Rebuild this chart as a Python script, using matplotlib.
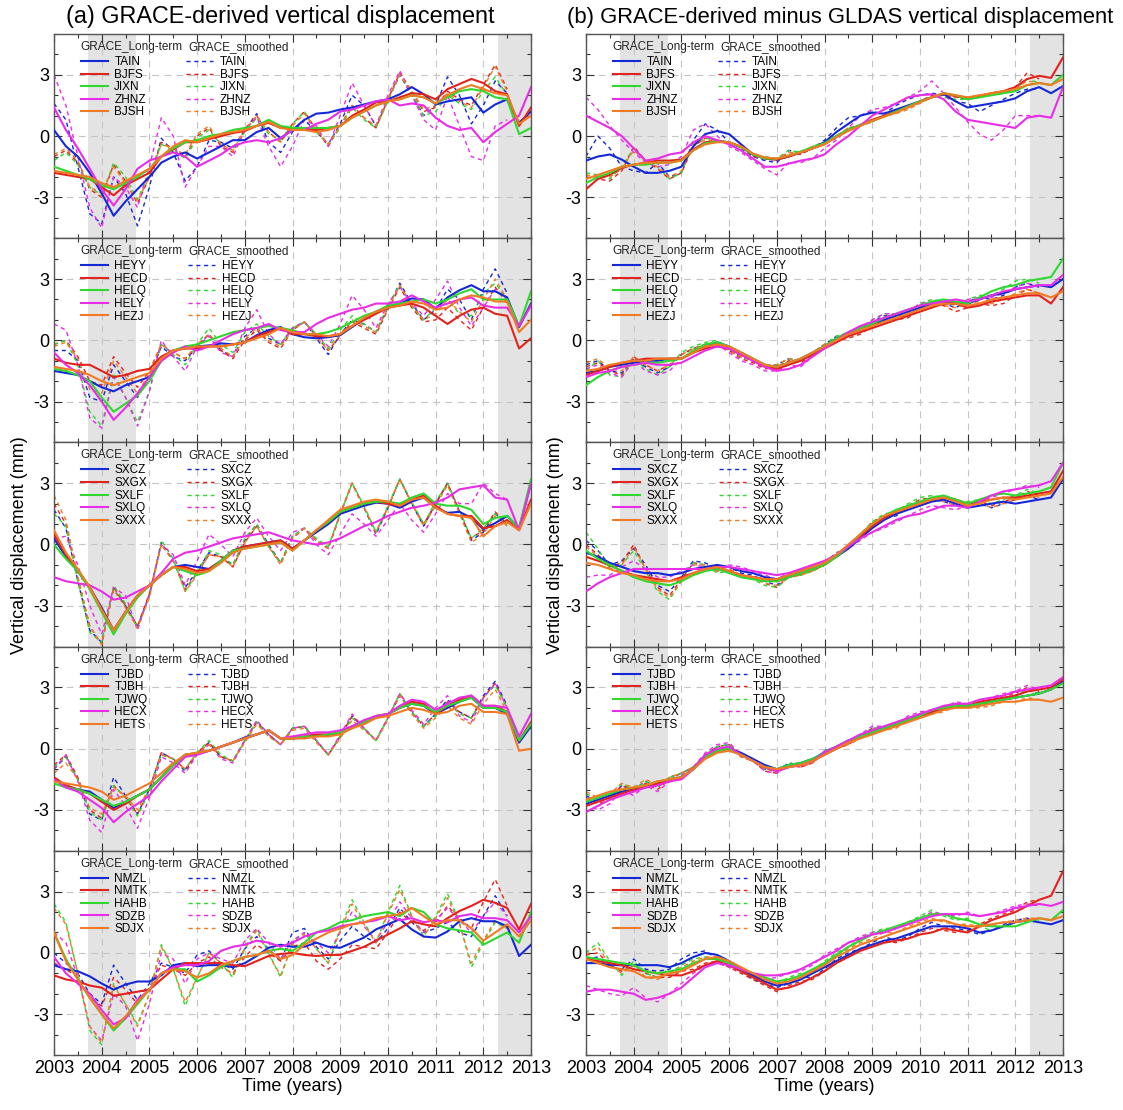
import numpy as np
import matplotlib
matplotlib.use("Agg")
import matplotlib.pyplot as plt
from matplotlib.ticker import MultipleLocator, FixedLocator, FuncFormatter
from matplotlib.lines import Line2D

plt.rcParams['font.family'] = ['Liberation Sans', 'DejaVu Sans']
plt.rcParams['axes.unicode_minus'] = False

nan = float('nan')

# ---------------- time axis (quarterly samples) ----------------
T_START = 2003.0
T_STEP = 0.25
N_PTS = 41
time = T_START + T_STEP * np.arange(N_PTS)

# shaded periods
shade_periods = [(2003.72, 2004.72), (2012.3, 2013.0)]

# ---------------- station lists ----------------
stations_a = [["TAIN", "BJFS", "JIXN", "ZHNZ", "BJSH"],
              ["HEYY", "HECD", "HELQ", "HELY", "HEZJ"],
              ["SXCZ", "SXGX", "SXLF", "SXLQ", "SXXX"],
              ["TJBD", "TJBH", "TJWQ", "HECX", "HETS"],
              ["NMZL", "NMTK", "HAHB", "SDZB", "SDJX"]]

# ================= (a) GRACE-derived =================
a1_long = {
    "TAIN": [0.3, -0.5, -1.0, -1.8, -2.8, -3.9, -3.2, -2.6, -2.0, -1.3, -1.0, -0.8, -1.1, -0.8, -0.5, -0.2, -0.2, 0.2, 0.4, -0.1, 0.3, 0.8, 1.1, 1.15, 1.3, 1.4, 1.55, 1.7, 1.8, 2.05, 2.4, 2.05, 1.55, 1.7, 1.8, 1.9, 1.15, 1.55, 1.8, 0.65, 1.2],
    "BJFS": [-1.8, -1.9, -2.0, -2.1, -2.5, -2.9, -2.4, -2.1, -1.8, -1.0, -0.65, -0.3, -0.3, -0.15, 0.0, 0.15, 0.25, 0.5, 0.65, 0.4, 0.4, 0.3, 0.3, 0.4, 0.5, 1.0, 1.3, 1.65, 1.7, 1.9, 2.1, 2.05, 1.8, 2.3, 2.55, 2.8, 2.6, 2.2, 2.05, 0.5, 1.4],
    "JIXN": [-1.5, -1.7, -1.9, -2.1, -2.4, -2.6, -2.3, -2.0, -1.6, -1.0, -0.6, -0.3, -0.2, 0.0, 0.1, 0.3, 0.4, 0.5, 0.8, 0.5, 0.4, 0.4, 0.4, 0.4, 0.5, 0.9, 1.2, 1.5, 1.7, 1.8, 2.0, 1.9, 1.6, 1.9, 2.2, 2.3, 2.2, 1.9, 1.8, 0.1, 0.4],
    "ZHNZ": [1.4, 0.3, -0.6, -1.6, -2.6, -3.4, -2.6, -1.6, -1.2, -1.0, -0.8, -1.0, -1.5, -1.2, -0.9, -0.5, -0.3, -0.2, -0.3, -0.1, 0.3, 0.3, 0.6, 0.8, 1.2, 1.3, 1.5, 1.7, 1.8, 1.5, 1.6, 1.5, 0.9, 0.5, 0.3, 0.4, -0.3, 0.2, 0.6, 1.0, 2.4],
    "BJSH": [-1.7, -1.8, -1.9, -2.0, -2.3, -2.5, -2.2, -1.9, -1.6, -1.0, -0.5, -0.2, -0.3, -0.1, 0.1, 0.2, 0.3, 0.5, 0.7, 0.4, 0.3, 0.3, 0.2, 0.3, 0.5, 0.9, 1.2, 1.5, 1.7, 1.8, 2.0, 1.9, 1.6, 2.0, 2.3, 2.5, 2.3, 2.1, 2.0, 0.6, 1.0],
}
a1_smooth = {
    "TAIN": [1.6, 0.8, -1.5, -3.8, -4.3, -2.0, -2.8, -4.4, -2.5, -0.1, -0.8, -2.2, -1.5, -0.2, -0.3, -0.6, 0.3, 1.1, -0.3, -0.8, 0.2, 0.8, 0.2, -0.4, 0.6, 2.0, 1.5, 0.5, 1.8, 3.0, 2.0, 1.0, 1.5, 2.9, 2.0, 0.6, 1.5, 2.7, 2.1, nan, nan],
    "BJFS": [-1.0, -0.7, -1.3, -2.6, -3.0, -1.4, -2.2, -3.3, -2.0, -0.3, -0.6, -1.0, 0.0, 0.4, -0.5, -0.8, 0.3, 1.0, 0.2, -0.3, 0.6, 1.2, 0.3, -0.5, 0.5, 1.5, 0.9, 0.4, 1.8, 3.1, 2.2, 1.2, 1.4, 2.2, 1.8, 1.5, 2.5, 3.5, 2.3, nan, nan],
    "JIXN": [-1.2, -0.8, -1.4, -2.5, -2.9, -1.3, -2.0, -3.1, -1.8, -0.4, -0.7, -1.1, -0.1, 0.3, -0.4, -0.7, 0.2, 0.9, 0.1, -0.2, 0.6, 1.2, 0.2, -0.4, 0.4, 1.4, 0.8, 0.4, 1.7, 3.0, 2.1, 1.0, 1.2, 2.0, 1.6, 1.3, 2.2, 2.9, 2.0, nan, nan],
    "ZHNZ": [3.0, 1.5, -1.0, -3.5, -4.5, -2.0, -2.5, -3.5, -1.5, 0.9, 0.0, -2.5, -1.5, -0.5, -0.5, -1.0, 0.3, 0.9, -0.5, -1.5, -0.5, 0.8, 0.5, -0.5, 1.0, 2.6, 1.5, 0.5, 2.0, 3.2, 2.0, 0.8, 0.3, 2.0, 0.5, -1.0, -1.2, 0.5, 0.8, nan, nan],
    "BJSH": [-0.9, -0.6, -1.2, -2.5, -2.8, -1.5, -2.3, -3.2, -2.0, -0.4, -0.6, -0.9, 0.1, 0.5, -0.4, -0.7, 0.3, 1.0, 0.2, -0.3, 0.5, 1.1, 0.3, -0.4, 0.5, 1.5, 0.9, 0.5, 1.8, 3.0, 2.2, 1.3, 1.5, 2.1, 1.7, 1.4, 2.4, 3.4, 2.2, nan, nan],
}

a2_long = {
    "HEYY": [-1.5, -1.6, -1.7, -2.0, -2.3, -2.5, -2.2, -2.0, -1.8, -1.0, -0.5, -0.4, -0.3, -0.25, -0.15, -0.2, -0.1, 0.25, 0.5, 0.65, 0.3, 0.15, 0.1, 0.15, 0.25, 0.65, 1.05, 1.4, 1.65, 1.8, 2.05, 2.0, 1.55, 2.1, 2.45, 2.7, 2.4, 2.4, 2.1, 0.65, 1.8],
    "HECD": [-0.9, -1.1, -1.2, -1.2, -1.5, -1.8, -1.7, -1.5, -1.4, -0.8, -0.5, -0.4, -0.4, -0.3, -0.3, -0.2, -0.1, 0.2, 0.4, 0.6, 0.3, 0.3, 0.2, 0.2, 0.3, 0.7, 1.0, 1.3, 1.6, 1.7, 1.8, 1.6, 1.2, 0.8, 1.2, 1.5, 1.6, 1.3, 1.2, -0.4, 0.1],
    "HELQ": [-1.4, -1.5, -1.7, -2.0, -2.8, -3.5, -3.1, -2.7, -2.0, -1.0, -0.5, -0.3, -0.2, 0.0, 0.2, 0.4, 0.5, 0.6, 0.7, 0.6, 0.5, 0.3, 0.3, 0.4, 0.6, 0.9, 1.2, 1.4, 1.7, 1.8, 1.9, 2.0, 1.8, 2.0, 2.3, 2.5, 2.0, 2.0, 2.0, 0.7, 2.4],
    "HELY": [-0.6, -1.2, -1.6, -2.2, -3.0, -3.9, -3.3, -2.6, -1.8, -1.0, -0.6, -0.3, -0.5, -0.3, 0.0, 0.3, 0.5, 0.6, 0.8, 0.5, 0.4, 0.4, 0.8, 1.1, 1.3, 1.5, 1.6, 1.8, 1.8, 1.9, 2.2, 1.9, 1.6, 1.8, 2.0, 2.1, 1.7, 1.6, 1.6, 0.7, 1.7],
    "HEZJ": [-1.3, -1.4, -1.5, -1.7, -2.0, -2.2, -2.0, -1.8, -1.6, -0.9, -0.5, -0.4, -0.3, -0.3, -0.3, -0.2, -0.1, 0.1, 0.3, 0.6, 0.4, 0.3, 0.3, 0.2, 0.3, 0.7, 1.1, 1.4, 1.6, 1.7, 1.9, 1.8, 1.5, 1.6, 2.0, 2.2, 2.1, 1.9, 1.9, 0.4, 1.0],
}
a2_smooth = {
    "HEYY": [-0.5, -0.5, -1.0, -2.8, -3.0, -1.2, -2.0, -2.8, -1.8, -0.3, -0.8, -1.0, -0.3, 0.3, -0.5, -0.8, 0.2, 0.6, 0.1, -0.2, 0.6, 0.9, 0.1, -0.7, 0.3, 1.0, 0.8, 0.4, 1.6, 2.8, 1.8, 1.0, 1.5, 2.5, 2.0, 1.0, 2.5, 3.5, 2.3, nan, nan],
    "HECD": [-0.2, 0.0, -0.8, -2.0, -2.2, -0.8, -1.6, -2.3, -1.5, -0.2, -0.6, -0.9, -0.3, 0.3, -0.5, -0.9, 0.0, 0.5, -0.1, -0.4, 0.5, 0.9, 0.2, -0.5, 0.2, 0.9, 0.6, 0.3, 1.5, 2.6, 1.6, 0.9, 1.0, 1.6, 1.0, 0.5, 1.6, 2.6, 1.8, nan, nan],
    "HELQ": [-0.2, 0.0, -1.2, -3.5, -4.2, -1.6, -2.8, -4.0, -2.5, -0.2, -0.7, -1.2, -0.2, 0.6, -0.2, -0.6, 0.4, 0.8, 0.2, -0.2, 0.6, 0.9, 0.3, -0.4, 0.5, 1.2, 0.8, 0.4, 1.7, 2.7, 1.7, 1.0, 1.6, 2.0, 1.3, 1.2, 2.3, 2.8, 2.0, nan, nan],
    "HELY": [0.8, 0.5, -1.2, -3.8, -4.3, -1.8, -2.8, -4.2, -2.5, 0.0, -0.8, -1.5, -0.3, 0.2, -0.6, -0.8, 0.6, 1.5, 0.3, -0.2, 0.6, 0.9, 0.3, -0.3, 0.8, 2.2, 1.5, 0.6, 1.8, 2.6, 1.8, 1.2, 2.0, 2.9, 1.6, 0.7, 1.6, 2.5, 2.0, nan, nan],
    "HEZJ": [-0.3, -0.1, -0.9, -2.4, -2.6, -1.0, -1.8, -2.6, -1.6, -0.2, -0.6, -0.9, -0.2, 0.3, -0.4, -0.8, 0.1, 0.6, 0.0, -0.3, 0.5, 0.9, 0.2, -0.5, 0.3, 1.0, 0.7, 0.4, 1.6, 2.7, 1.7, 1.0, 1.3, 2.0, 1.4, 0.9, 2.0, 3.0, 2.0, nan, nan],
}

a3_long = {
    "SXCZ": [0.3, -0.6, -1.3, -2.1, -3.1, -4.2, -3.3, -2.5, -2.0, -1.5, -1.1, -1.0, -1.1, -1.2, -0.8, -0.3, -0.1, 0.0, 0.1, 0.2, -0.2, 0.2, 0.6, 1.0, 1.5, 1.7, 1.9, 2.05, 2.0, 1.8, 2.1, 2.3, 1.8, 1.55, 1.6, 1.3, 0.75, 1.05, 1.4, 0.8, 3.0],
    "SXGX": [0.5, -0.5, -1.3, -2.1, -3.2, -4.2, -3.3, -2.5, -2.0, -1.5, -1.1, -1.1, -1.3, -1.2, -0.8, -0.3, -0.1, 0.0, 0.1, 0.2, -0.2, 0.2, 0.7, 1.1, 1.6, 1.8, 2.0, 2.1, 2.0, 1.9, 2.2, 2.4, 1.9, 1.5, 1.4, 1.4, 0.8, 0.9, 1.2, 0.7, 2.2],
    "SXLF": [0.0, -0.7, -1.3, -2.2, -3.3, -4.4, -3.4, -2.6, -2.0, -1.5, -1.1, -1.3, -1.5, -1.3, -0.8, -0.3, -0.2, -0.1, 0.0, 0.1, -0.3, 0.2, 0.7, 1.1, 1.6, 1.8, 2.0, 2.1, 2.1, 2.0, 2.3, 2.5, 2.0, 1.9, 1.9, 1.7, 1.0, 1.3, 1.4, 0.8, 3.2],
    "SXLQ": [-1.6, -1.8, -1.9, -2.0, -2.3, -2.7, -2.6, -2.3, -2.0, -1.4, -0.7, -0.4, -0.3, -0.1, 0.1, 0.3, 0.4, 0.5, 0.6, 0.4, 0.2, 0.1, 0.0, 0.1, 0.3, 0.6, 0.9, 1.1, 1.4, 1.6, 1.8, 1.9, 2.05, 2.3, 2.7, 2.8, 2.9, 2.3, 2.2, 0.7, 3.0],
    "SXXX": [0.7, -0.4, -1.2, -2.1, -3.2, -4.2, -3.3, -2.5, -2.0, -1.5, -1.1, -1.2, -1.4, -1.3, -0.9, -0.4, -0.2, -0.1, 0.0, 0.1, -0.3, 0.2, 0.7, 1.2, 1.7, 1.9, 2.1, 2.2, 2.1, 1.9, 2.2, 2.3, 1.8, 1.5, 1.4, 1.3, 0.4, 0.9, 1.1, 0.7, 2.0],
}
a3_smooth = {
    "SXCZ": [1.7, 0.8, -1.8, -4.2, -4.8, -2.2, -3.0, -4.0, -2.5, 0.1, -0.8, -2.1, -1.3, -0.4, -0.6, -1.0, 0.2, 1.0, 0.0, -0.9, 0.4, 0.8, 0.2, -0.2, 1.5, 3.0, 1.8, 0.5, 1.8, 3.2, 2.0, 0.9, 2.0, 3.0, 1.6, 0.2, 0.6, 1.5, 1.0, nan, nan],
    "SXGX": [2.0, 1.0, -1.6, -4.0, -4.9, -2.1, -3.0, -4.0, -2.4, 0.0, -0.8, -2.2, -1.4, -0.5, -0.6, -1.1, 0.1, 0.9, -0.1, -0.9, 0.3, 0.8, 0.2, -0.2, 1.5, 3.0, 1.8, 0.6, 1.8, 3.2, 2.0, 1.0, 2.0, 3.0, 1.6, 0.3, 0.7, 1.6, 1.0, nan, nan],
    "SXLF": [1.5, 0.9, -1.8, -4.3, -4.8, -2.0, -2.9, -4.1, -2.5, 0.2, -0.7, -2.3, -1.4, -0.3, -0.5, -1.0, 0.3, 1.0, -0.1, -0.9, 0.4, 0.8, 0.3, -0.1, 1.5, 3.0, 1.9, 0.6, 1.9, 3.2, 2.1, 1.0, 2.1, 3.0, 1.7, 0.3, 0.8, 1.5, 1.0, nan, nan],
    "SXLQ": [0.3, 0.4, -1.0, -3.0, -4.4, -2.1, -2.5, -4.2, -2.4, 0.0, -0.5, -2.0, -0.8, 0.5, 0.0, -0.6, 0.6, 1.3, 0.4, -0.3, 0.6, 0.8, 0.0, -0.5, 0.5, 1.5, 1.0, 0.4, 1.2, 2.0, 1.2, 0.6, 1.5, 2.5, 2.0, 2.0, 3.0, 2.5, 2.2, nan, nan],
    "SXXX": [2.4, 1.2, -1.6, -4.0, -4.9, -2.2, -3.1, -4.1, -2.6, 0.0, -0.8, -2.3, -1.5, -0.5, -0.6, -1.1, 0.1, 0.9, -0.1, -1.0, 0.3, 0.8, 0.2, -0.2, 1.5, 3.0, 1.8, 0.6, 1.8, 3.2, 2.0, 0.9, 1.9, 2.9, 1.5, 0.1, 0.5, 1.4, 0.9, nan, nan],
}

a4_long = {
    "TJBD": [-1.5, -1.8, -2.0, -2.1, -2.5, -2.9, -2.6, -2.3, -2.0, -1.4, -0.8, -0.3, -0.25, -0.1, 0.1, 0.3, 0.55, 0.7, 0.9, 0.5, 0.5, 0.55, 0.65, 0.65, 0.8, 1.05, 1.3, 1.55, 1.7, 2.0, 2.2, 2.1, 1.7, 2.0, 2.3, 2.5, 2.0, 2.0, 1.7, 0.3, 1.1],
    "TJBH": [-1.4, -1.8, -2.0, -2.2, -2.6, -3.0, -2.7, -2.3, -2.0, -1.4, -0.8, -0.3, -0.2, -0.1, 0.1, 0.3, 0.5, 0.7, 0.9, 0.5, 0.5, 0.6, 0.7, 0.7, 0.8, 1.1, 1.3, 1.6, 1.7, 2.0, 2.3, 2.2, 1.7, 2.1, 2.4, 2.6, 2.1, 2.1, 1.8, 0.4, 1.3],
    "TJWQ": [-1.7, -1.9, -2.0, -2.2, -2.5, -2.8, -2.6, -2.3, -2.0, -1.4, -0.8, -0.3, -0.2, -0.1, 0.1, 0.3, 0.5, 0.7, 0.9, 0.5, 0.5, 0.6, 0.6, 0.7, 0.8, 1.0, 1.3, 1.6, 1.7, 2.0, 2.2, 2.1, 1.8, 2.1, 2.3, 2.5, 2.0, 2.0, 1.8, 0.4, 1.2],
    "HECX": [-1.5, -1.9, -2.1, -2.5, -2.9, -3.6, -3.1, -2.7, -2.3, -1.6, -1.0, -0.4, -0.3, -0.1, 0.1, 0.3, 0.5, 0.7, 0.9, 0.5, 0.6, 0.7, 0.8, 0.8, 0.9, 1.1, 1.4, 1.6, 1.7, 2.1, 2.4, 2.3, 1.9, 2.2, 2.5, 2.6, 2.1, 2.1, 2.0, 0.6, 1.7],
    "HETS": [-1.6, -1.7, -1.8, -1.9, -2.1, -2.5, -2.3, -2.0, -1.7, -1.2, -0.7, -0.3, -0.2, -0.1, 0.1, 0.3, 0.5, 0.7, 0.9, 0.5, 0.5, 0.5, 0.6, 0.6, 0.7, 1.0, 1.2, 1.5, 1.6, 1.8, 2.0, 1.9, 1.7, 1.8, 2.1, 2.2, 1.8, 1.8, 1.7, -0.1, 0.0],
}
a4_smooth = {
    "TJBD": [-1.0, -0.4, -1.5, -3.2, -3.5, -1.4, -2.3, -3.2, -2.0, -0.2, -0.5, -1.1, -0.2, 0.3, -0.4, -0.6, 0.4, 1.3, 0.7, 0.2, 1.0, 1.1, 0.4, -0.3, 0.6, 1.6, 1.0, 0.4, 1.5, 2.6, 1.8, 1.1, 1.7, 2.4, 1.8, 1.5, 2.6, 3.3, 2.1, nan, nan],
    "TJBH": [-0.8, -0.3, -1.4, -3.0, -3.4, -1.8, -2.4, -3.2, -2.0, -0.2, -0.5, -1.0, -0.2, 0.3, -0.4, -0.6, 0.4, 1.3, 0.7, 0.2, 1.0, 1.1, 0.4, -0.3, 0.6, 1.6, 1.0, 0.4, 1.5, 2.7, 1.8, 1.1, 1.7, 2.3, 1.8, 1.5, 2.5, 3.2, 2.0, nan, nan],
    "TJWQ": [-0.9, -0.4, -1.5, -3.1, -3.5, -1.8, -2.4, -3.3, -2.1, -0.3, -0.5, -1.0, -0.2, 0.4, -0.3, -0.6, 0.4, 1.3, 0.6, 0.2, 1.0, 1.1, 0.4, -0.3, 0.6, 1.5, 1.0, 0.4, 1.5, 2.7, 1.8, 1.1, 1.6, 2.3, 1.7, 1.5, 2.5, 3.1, 2.0, nan, nan],
    "HECX": [-1.0, -0.3, -1.6, -3.5, -4.1, -2.0, -2.8, -3.9, -2.4, -0.4, -0.7, -1.2, -0.3, 0.2, -0.5, -0.7, 0.4, 1.4, 0.7, 0.2, 1.0, 1.1, 0.4, -0.3, 0.7, 1.7, 1.0, 0.4, 1.5, 2.7, 1.9, 1.2, 2.0, 2.6, 1.6, 1.3, 2.5, 3.2, 2.0, nan, nan],
    "HETS": [-1.2, -0.7, -1.5, -2.9, -3.2, -1.9, -2.3, -3.0, -1.9, -0.3, -0.5, -1.0, -0.2, 0.2, -0.4, -0.6, 0.3, 1.2, 0.6, 0.2, 0.9, 1.0, 0.3, -0.3, 0.5, 1.4, 0.9, 0.4, 1.4, 2.6, 1.7, 1.0, 1.5, 2.1, 1.5, 1.2, 2.2, 2.9, 1.8, nan, nan],
}

a5_long = {
    "NMZL": [-0.6, -0.8, -0.9, -1.15, -1.5, -1.8, -1.55, -1.4, -1.4, -1.1, -0.6, -0.5, -0.65, -0.6, -0.6, -0.7, -0.5, -0.15, 0.25, 0.4, 0.3, 0.3, 0.5, 0.3, 0.25, 0.5, 0.75, 1.15, 1.4, 1.65, 1.15, 0.8, 0.75, 1.05, 1.55, 1.7, 1.55, 1.55, 1.3, -0.15, 0.4],
    "NMTK": [-1.1, -1.3, -1.4, -1.6, -1.7, -2.1, -2.0, -1.9, -1.8, -1.3, -0.8, -0.5, -0.5, -0.5, -0.5, -0.6, -0.65, -0.4, -0.15, -0.05, 0.0, -0.1, -0.15, -0.1, -0.1, 0.1, 0.3, 0.6, 0.9, 1.2, 1.55, 1.4, 1.3, 1.7, 2.05, 2.3, 2.6, 2.45, 2.2, 1.15, 2.4],
    "HAHB": [1.0, -0.3, -1.3, -2.2, -3.0, -3.8, -3.2, -2.5, -1.8, -1.0, -0.8, -0.8, -1.4, -1.1, -0.7, -0.4, -0.2, -0.1, 0.1, 0.2, 0.1, 0.5, 1.0, 1.2, 1.5, 1.6, 1.8, 1.9, 2.0, 1.8, 2.2, 2.0, 1.4, 1.2, 1.1, 1.0, 0.4, 0.7, 1.0, 0.5, 2.0],
    "SDZB": [-0.2, -1.0, -1.5, -2.0, -2.8, -3.5, -3.2, -2.3, -1.8, -1.0, -0.7, -0.6, -0.6, -0.4, 0.1, 0.3, 0.4, 0.6, 0.5, 0.3, 0.5, 0.8, 1.0, 1.1, 1.3, 1.4, 1.5, 1.6, 1.8, 1.6, 1.7, 1.5, 1.6, 1.5, 1.8, 1.9, 1.7, 1.7, 1.6, 1.0, 1.8],
    "SDJX": [1.0, -0.4, -1.3, -2.2, -3.0, -3.7, -3.1, -2.4, -1.8, -1.0, -0.8, -0.9, -1.2, -1.0, -0.6, -0.4, -0.2, -0.1, 0.1, -0.3, -0.1, 0.4, 0.7, 1.0, 1.2, 1.4, 1.5, 1.7, 1.8, 1.9, 2.2, 1.8, 1.4, 1.6, 1.6, 1.2, 0.6, 1.0, 1.4, 0.8, 1.6],
}
a5_smooth = {
    "NMZL": [0.0, -0.5, -1.0, -2.0, -2.5, -0.6, -1.5, -2.3, -1.5, -0.5, -0.7, -1.0, -0.1, 0.1, -0.5, -0.8, 0.2, 0.8, 0.2, -0.4, 1.0, 1.2, 0.3, -0.3, 0.6, 1.3, 0.8, 0.5, 1.2, 2.2, 1.5, 1.0, 1.2, 1.5, 1.0, 0.8, 1.8, 2.8, 1.8, nan, nan],
    "NMTK": [-0.5, -0.8, -1.2, -2.2, -2.6, -1.2, -1.8, -2.5, -1.7, -0.6, -0.8, -1.1, -0.5, -0.2, -0.7, -1.0, -0.2, 0.4, 0.0, -0.4, 0.3, 0.5, -0.4, -0.8, -0.3, 0.4, 0.3, 0.2, 1.0, 2.0, 1.5, 1.1, 1.5, 2.3, 1.7, 1.2, 2.5, 3.6, 2.3, nan, nan],
    "HAHB": [2.4, 1.5, -1.0, -3.8, -4.5, -1.5, -2.5, -3.5, -2.0, 0.4, -0.8, -2.6, -1.2, 0.0, -0.5, -1.2, 0.3, 1.2, 0.0, -1.2, 0.5, 1.0, 0.2, -0.5, 1.2, 2.6, 1.5, 0.5, 2.0, 3.3, 1.8, 0.8, 1.8, 2.9, 1.5, -0.7, 0.5, 1.5, 1.2, nan, nan],
    "SDZB": [1.0, 0.5, -1.2, -3.6, -4.3, -2.0, -2.6, -4.3, -2.5, 0.0, -0.3, -1.5, -0.3, 0.0, -0.3, -0.5, 0.6, 1.2, 0.5, -0.3, 0.6, 1.0, 0.5, 0.0, 1.0, 2.0, 1.3, 0.6, 1.5, 2.5, 1.7, 1.0, 1.6, 2.2, 1.6, 1.0, 1.8, 2.5, 1.8, nan, nan],
    "SDJX": [2.2, 1.4, -1.0, -3.6, -4.4, -1.6, -2.5, -3.6, -2.0, 0.3, -0.8, -2.4, -1.2, 0.0, -0.5, -1.1, 0.2, 1.1, -0.1, -1.1, 0.4, 0.9, 0.2, -0.5, 1.1, 2.4, 1.4, 0.5, 1.9, 3.1, 1.8, 0.8, 1.7, 2.7, 1.4, -0.5, 0.6, 1.6, 1.2, nan, nan],
}

# ================= (b) GRACE-derived minus GLDAS =================
b1_long = {
    "TAIN": [-1.2, -1.0, -0.9, -1.15, -1.5, -1.8, -1.8, -1.7, -1.5, -0.5, 0.1, 0.25, 0.1, -0.4, -0.9, -1.1, -1.15, -1.0, -0.8, -0.6, -0.3, 0.2, 0.6, 1.0, 1.15, 1.1, 1.3, 1.5, 1.7, 1.9, 2.05, 1.7, 1.4, 1.5, 1.6, 1.7, 1.85, 2.2, 2.4, 2.1, 2.45],
    "BJFS": [-2.6, -2.1, -1.9, -1.55, -1.4, -1.3, -1.2, -1.2, -1.15, -0.65, -0.3, -0.25, -0.3, -0.55, -0.9, -1.1, -1.15, -1.0, -0.8, -0.6, -0.4, 0.0, 0.3, 0.55, 0.8, 1.0, 1.2, 1.45, 1.7, 1.9, 2.1, 1.95, 1.85, 1.95, 2.1, 2.2, 2.4, 2.8, 2.95, 2.85, 3.85],
    "JIXN": [-2.3, -2.0, -1.8, -1.5, -1.4, -1.4, -1.3, -1.3, -1.2, -0.7, -0.35, -0.25, -0.3, -0.55, -0.9, -1.1, -1.1, -0.95, -0.75, -0.55, -0.35, 0.0, 0.3, 0.55, 0.75, 0.95, 1.2, 1.45, 1.7, 1.9, 2.1, 2.0, 1.8, 1.9, 2.0, 2.1, 2.2, 2.5, 2.6, 2.5, 3.0],
    "ZHNZ": [1.0, 0.7, 0.4, 0.0, -0.6, -1.2, -1.1, -0.9, -0.8, -0.3, 0.0, -0.2, -0.4, -0.7, -1.1, -1.5, -1.5, -1.35, -1.2, -1.1, -0.9, -0.4, 0.0, 0.5, 1.0, 1.3, 1.6, 1.9, 2.0, 2.05, 1.8, 1.2, 0.8, 0.7, 0.6, 0.5, 0.4, 0.9, 1.0, 0.9, 2.4],
    "BJSH": [-2.1, -1.9, -1.7, -1.5, -1.4, -1.3, -1.3, -1.3, -1.2, -0.7, -0.4, -0.3, -0.3, -0.5, -0.85, -1.05, -1.1, -0.95, -0.8, -0.6, -0.4, -0.05, 0.25, 0.5, 0.75, 0.95, 1.15, 1.4, 1.65, 1.9, 2.1, 2.0, 1.9, 2.0, 2.1, 2.2, 2.3, 2.5, 2.6, 2.5, 2.8],
}
b1_smooth = {
    "TAIN": [-1.0, 0.0, -0.6, -1.5, -1.7, -1.8, -1.3, -2.0, -1.8, -0.2, 0.6, 0.3, -0.3, -0.6, -1.0, -1.2, -1.3, -0.7, -0.8, -0.6, -0.2, 0.4, 0.9, 1.0, 1.2, 1.1, 1.5, 1.8, 2.0, 2.1, 2.0, 1.7, 1.6, 1.2, 1.5, 1.8, 2.1, 2.3, 2.3, nan, nan],
    "BJFS": [-2.0, -2.1, -2.2, -1.7, -0.5, -1.2, -1.6, -2.1, -1.8, -0.5, -0.1, -0.2, -0.3, -0.5, -1.0, -1.1, -1.2, -0.8, -0.9, -0.6, -0.4, -0.1, 0.4, 0.5, 0.7, 1.0, 1.2, 1.4, 1.7, 2.0, 2.0, 1.9, 1.8, 2.0, 2.1, 2.2, 2.4, 3.1, 2.8, nan, nan],
    "JIXN": [-1.8, -1.9, -2.1, -1.5, -0.6, -1.3, -1.5, -2.1, -1.8, -0.4, -0.1, -0.2, -0.3, -0.5, -0.9, -1.0, -1.1, -0.7, -0.8, -0.5, -0.3, 0.0, 0.4, 0.5, 0.7, 1.0, 1.2, 1.4, 1.7, 1.9, 1.9, 1.8, 1.8, 1.9, 2.0, 2.1, 2.3, 2.8, 2.6, nan, nan],
    "ZHNZ": [1.9, 1.3, 0.5, -0.2, -0.8, -1.3, -1.5, -1.4, -1.0, 0.3, 0.6, 0.0, -0.5, -0.8, -1.2, -1.6, -1.9, -1.3, -1.3, -1.1, -0.6, -0.2, 0.4, 1.0, 1.3, 1.4, 1.6, 1.9, 2.2, 2.7, 2.1, 1.4, 0.7, 0.1, -0.2, 0.3, 1.0, 1.0, 1.0, nan, nan],
    "BJSH": [-1.9, -2.0, -2.0, -1.6, -0.7, -1.2, -1.5, -2.0, -1.7, -0.4, -0.2, -0.2, -0.3, -0.5, -0.9, -1.1, -1.1, -0.8, -0.8, -0.5, -0.3, 0.0, 0.4, 0.5, 0.7, 1.0, 1.1, 1.3, 1.6, 1.9, 2.0, 1.9, 1.9, 2.0, 2.1, 2.2, 2.3, 2.7, 2.6, nan, nan],
}

b2_long = {
    "HEYY": [-1.6, -1.5, -1.3, -1.2, -1.1, -1.0, -1.0, -0.9, -0.9, -0.6, -0.3, -0.1, -0.3, -0.6, -0.9, -1.2, -1.3, -1.1, -0.9, -0.6, -0.3, 0.1, 0.3, 0.6, 0.8, 1.0, 1.2, 1.4, 1.6, 1.8, 1.9, 1.8, 1.8, 2.0, 2.2, 2.3, 2.5, 2.6, 2.7, 2.6, 3.0],
    "HECD": [-1.7, -1.5, -1.3, -1.1, -1.0, -0.9, -0.9, -0.9, -0.9, -0.6, -0.4, -0.3, -0.4, -0.7, -1.0, -1.3, -1.4, -1.2, -1.0, -0.7, -0.4, -0.1, 0.2, 0.4, 0.6, 0.8, 1.0, 1.2, 1.4, 1.6, 1.8, 1.8, 1.6, 1.7, 1.9, 2.0, 2.1, 2.2, 2.2, 1.8, 2.6],
    "HELQ": [-2.2, -1.8, -1.5, -1.3, -1.2, -1.1, -1.1, -1.0, -0.9, -0.5, -0.2, -0.1, -0.3, -0.6, -0.9, -1.2, -1.3, -1.1, -0.9, -0.6, -0.3, 0.1, 0.4, 0.6, 0.8, 1.1, 1.3, 1.5, 1.7, 1.9, 2.0, 1.9, 1.8, 2.1, 2.4, 2.6, 2.7, 2.9, 3.0, 3.1, 4.0],
    "HELY": [-1.8, -1.6, -1.5, -1.3, -1.2, -1.1, -1.2, -1.2, -1.1, -0.8, -0.5, -0.3, -0.4, -0.7, -1.0, -1.3, -1.5, -1.4, -1.2, -0.8, -0.4, 0.0, 0.4, 0.7, 0.9, 1.1, 1.3, 1.5, 1.7, 1.8, 1.9, 2.0, 1.9, 2.0, 2.2, 2.4, 2.5, 2.6, 2.7, 2.7, 3.2],
    "HEZJ": [-1.5, -1.4, -1.2, -1.1, -1.0, -1.0, -0.9, -0.9, -0.9, -0.6, -0.3, -0.2, -0.3, -0.6, -0.9, -1.2, -1.3, -1.1, -0.9, -0.6, -0.3, 0.0, 0.3, 0.5, 0.7, 0.9, 1.1, 1.3, 1.5, 1.7, 1.8, 1.8, 1.7, 1.8, 2.0, 2.1, 2.2, 2.3, 2.3, 2.1, 2.4],
}
b2_smooth = {
    "HEYY": [-1.2, -1.0, -1.5, -1.6, -0.9, -1.3, -1.6, -1.3, -0.7, -0.4, -0.2, -0.1, -0.5, -0.8, -1.0, -1.3, -1.2, -0.9, -1.0, -0.6, -0.2, 0.2, 0.3, 0.5, 0.9, 1.2, 1.2, 1.3, 1.7, 1.9, 1.8, 1.6, 1.9, 2.1, 2.0, 2.2, 2.6, 2.8, 2.6, nan, nan],
    "HECD": [-1.3, -1.1, -1.5, -1.7, -0.8, -1.2, -1.5, -1.2, -0.7, -0.4, -0.3, -0.2, -0.5, -0.9, -1.1, -1.4, -1.3, -1.0, -1.1, -0.7, -0.3, 0.0, 0.1, 0.3, 0.7, 1.0, 1.0, 1.1, 1.5, 1.8, 1.7, 1.4, 1.6, 1.8, 1.7, 1.8, 2.2, 2.5, 2.3, nan, nan],
    "HELQ": [-1.5, -1.0, -1.7, -1.8, -0.9, -1.4, -1.7, -1.3, -0.6, -0.3, -0.1, 0.0, -0.4, -0.8, -1.0, -1.3, -1.2, -0.9, -1.0, -0.6, -0.2, 0.2, 0.4, 0.6, 1.0, 1.3, 1.3, 1.4, 1.8, 2.0, 1.9, 1.7, 2.0, 2.2, 2.2, 2.5, 2.9, 3.0, 2.8, nan, nan],
    "HELY": [-1.4, -1.2, -1.6, -1.8, -1.0, -1.5, -1.7, -1.5, -0.9, -0.6, -0.3, -0.2, -0.6, -1.0, -1.2, -1.5, -1.5, -1.2, -1.3, -0.8, -0.3, 0.1, 0.3, 0.6, 1.0, 1.3, 1.3, 1.4, 1.8, 1.9, 1.8, 1.8, 2.0, 2.1, 2.1, 2.3, 2.6, 2.8, 2.6, nan, nan],
    "HEZJ": [-1.1, -0.9, -1.4, -1.5, -0.8, -1.2, -1.5, -1.2, -0.7, -0.4, -0.2, -0.1, -0.5, -0.8, -1.0, -1.3, -1.2, -0.9, -1.0, -0.6, -0.2, 0.1, 0.2, 0.4, 0.8, 1.1, 1.1, 1.2, 1.6, 1.8, 1.7, 1.6, 1.8, 1.9, 1.8, 2.0, 2.3, 2.5, 2.3, nan, nan],
}

b3_long = {
    "SXCZ": [-0.4, -0.6, -0.9, -1.1, -1.3, -1.4, -1.4, -1.5, -1.4, -1.2, -1.1, -1.0, -1.1, -1.3, -1.4, -1.6, -1.7, -1.5, -1.3, -1.1, -0.9, -0.6, -0.2, 0.3, 0.8, 1.2, 1.5, 1.7, 1.9, 2.1, 2.2, 2.0, 1.8, 1.9, 2.0, 2.1, 2.0, 2.1, 2.2, 2.3, 3.2],
    "SXGX": [-0.6, -0.8, -1.0, -1.3, -1.5, -1.6, -1.7, -1.8, -1.6, -1.4, -1.2, -1.1, -1.3, -1.5, -1.6, -1.7, -1.8, -1.6, -1.4, -1.2, -1.0, -0.6, -0.1, 0.4, 0.9, 1.3, 1.6, 1.8, 2.0, 2.2, 2.3, 2.2, 2.0, 2.1, 2.2, 2.3, 2.3, 2.4, 2.5, 2.6, 3.6],
    "SXLF": [-0.3, -0.7, -1.0, -1.3, -1.6, -1.8, -1.9, -2.0, -1.8, -1.5, -1.3, -1.2, -1.4, -1.6, -1.7, -1.8, -1.8, -1.6, -1.4, -1.2, -1.0, -0.6, -0.1, 0.5, 1.0, 1.4, 1.7, 1.9, 2.1, 2.3, 2.4, 2.2, 2.0, 2.2, 2.4, 2.5, 2.4, 2.5, 2.6, 2.8, 4.0],
    "SXLQ": [-2.3, -1.9, -1.6, -1.4, -1.2, -1.2, -1.2, -1.2, -1.2, -1.2, -1.2, -1.1, -1.1, -1.2, -1.3, -1.4, -1.5, -1.4, -1.2, -1.0, -0.8, -0.5, -0.1, 0.3, 0.6, 0.9, 1.2, 1.4, 1.5, 1.7, 1.9, 1.9, 1.8, 2.1, 2.4, 2.6, 2.7, 2.8, 2.9, 3.1, 4.0],
    "SXXX": [-0.9, -1.0, -1.2, -1.4, -1.5, -1.7, -1.8, -1.8, -1.7, -1.4, -1.2, -1.1, -1.3, -1.5, -1.6, -1.7, -1.7, -1.5, -1.3, -1.1, -0.9, -0.5, 0.0, 0.5, 1.0, 1.4, 1.6, 1.8, 2.0, 2.2, 2.3, 2.1, 1.9, 2.0, 2.2, 2.3, 2.2, 2.3, 2.4, 2.5, 3.3],
}
b3_smooth = {
    "SXCZ": [0.2, -0.3, -1.0, -0.8, -0.2, -1.0, -2.0, -2.3, -1.6, -0.8, -0.9, -1.2, -1.1, -1.4, -1.5, -1.8, -2.0, -1.5, -1.4, -1.2, -0.9, -0.4, -0.2, 0.4, 1.0, 1.3, 1.4, 1.8, 2.1, 2.2, 2.1, 1.9, 1.9, 2.0, 1.8, 2.0, 2.2, 2.4, 2.2, nan, nan],
    "SXGX": [0.0, -0.5, -1.1, -0.9, 0.0, -1.2, -2.1, -2.5, -1.7, -0.9, -1.0, -1.3, -1.2, -1.5, -1.6, -1.9, -2.1, -1.6, -1.5, -1.3, -1.0, -0.5, -0.2, 0.5, 1.1, 1.4, 1.5, 1.9, 2.2, 2.3, 2.2, 2.0, 2.0, 2.1, 1.9, 2.1, 2.3, 2.6, 2.4, nan, nan],
    "SXLF": [0.6, -0.2, -1.2, -1.0, -0.3, -1.3, -2.3, -2.7, -1.8, -0.9, -1.0, -1.4, -1.3, -1.6, -1.7, -2.0, -2.1, -1.6, -1.5, -1.3, -1.0, -0.5, -0.1, 0.5, 1.1, 1.5, 1.6, 2.0, 2.3, 2.4, 2.3, 2.1, 2.1, 2.2, 2.0, 2.2, 2.4, 2.7, 2.5, nan, nan],
    "SXLQ": [-1.6, -1.5, -1.5, -1.1, -0.8, -1.2, -1.6, -1.6, -1.3, -1.0, -1.1, -1.2, -1.0, -1.1, -1.3, -1.5, -1.7, -1.4, -1.3, -1.1, -0.9, -0.6, -0.2, 0.2, 0.6, 0.8, 1.1, 1.4, 1.7, 1.9, 1.8, 1.7, 1.9, 2.2, 2.3, 2.5, 2.7, 2.9, 2.8, nan, nan],
    "SXXX": [-0.1, -0.6, -1.2, -1.0, -0.1, -1.2, -2.2, -2.6, -1.8, -1.0, -1.0, -1.3, -1.2, -1.5, -1.6, -1.9, -2.0, -1.6, -1.5, -1.3, -1.0, -0.5, -0.2, 0.5, 1.0, 1.4, 1.5, 1.9, 2.1, 2.2, 2.1, 1.9, 1.9, 2.0, 1.8, 2.0, 2.2, 2.5, 2.3, nan, nan],
}

b4_long = {
    "TJBD": [-2.7, -2.5, -2.3, -2.1, -2.0, -1.8, -1.7, -1.5, -1.4, -1.0, -0.4, -0.1, 0.0, -0.2, -0.5, -0.8, -1.0, -0.8, -0.7, -0.5, -0.2, 0.1, 0.4, 0.6, 0.8, 1.0, 1.2, 1.4, 1.6, 1.8, 2.0, 2.1, 2.1, 2.2, 2.3, 2.4, 2.5, 2.6, 2.7, 2.9, 3.3],
    "TJBH": [-2.8, -2.6, -2.4, -2.2, -2.0, -1.9, -1.7, -1.6, -1.4, -1.0, -0.4, -0.1, 0.0, -0.3, -0.6, -0.9, -1.1, -0.9, -0.8, -0.6, -0.3, 0.0, 0.3, 0.6, 0.8, 1.0, 1.2, 1.4, 1.6, 1.8, 2.0, 2.1, 2.1, 2.3, 2.4, 2.5, 2.6, 2.8, 2.9, 3.0, 3.4],
    "TJWQ": [-2.6, -2.4, -2.2, -2.0, -1.9, -1.8, -1.6, -1.5, -1.4, -1.0, -0.4, -0.1, 0.0, -0.3, -0.6, -0.9, -1.0, -0.8, -0.7, -0.5, -0.2, 0.1, 0.4, 0.6, 0.8, 1.0, 1.2, 1.4, 1.6, 1.9, 2.0, 2.1, 2.1, 2.2, 2.3, 2.4, 2.5, 2.6, 2.7, 2.9, 3.2],
    "HECX": [-3.1, -2.8, -2.5, -2.3, -2.1, -1.9, -1.8, -1.6, -1.5, -1.0, -0.3, 0.0, 0.1, -0.3, -0.6, -0.9, -1.1, -0.9, -0.8, -0.6, -0.2, 0.1, 0.4, 0.7, 0.9, 1.1, 1.3, 1.5, 1.7, 1.9, 2.1, 2.2, 2.2, 2.4, 2.5, 2.6, 2.8, 2.9, 3.0, 3.1, 3.5],
    "HETS": [-2.5, -2.3, -2.1, -2.0, -1.9, -1.8, -1.6, -1.5, -1.4, -1.0, -0.5, -0.2, -0.1, -0.3, -0.6, -0.9, -1.0, -0.9, -0.8, -0.6, -0.3, 0.0, 0.3, 0.5, 0.7, 0.9, 1.1, 1.3, 1.5, 1.7, 1.9, 2.0, 2.0, 2.1, 2.2, 2.3, 2.3, 2.4, 2.4, 2.3, 2.5],
}
b4_smooth = {
    "TJBD": [-2.3, -2.6, -2.4, -1.8, -2.0, -1.6, -1.9, -1.4, -1.2, -0.9, -0.3, 0.1, 0.2, -0.3, -0.5, -1.0, -1.1, -0.7, -0.8, -0.6, -0.1, 0.1, 0.3, 0.6, 1.0, 1.0, 1.1, 1.5, 1.7, 1.8, 1.9, 2.2, 2.1, 2.1, 2.3, 2.5, 2.6, 2.9, 2.7, nan, nan],
    "TJBH": [-2.4, -2.7, -2.5, -1.8, -2.1, -1.7, -2.0, -1.5, -1.2, -0.9, -0.3, 0.1, 0.2, -0.4, -0.6, -1.1, -1.2, -0.8, -0.9, -0.7, -0.2, 0.0, 0.2, 0.6, 1.0, 1.0, 1.1, 1.5, 1.7, 1.8, 1.9, 2.2, 2.1, 2.2, 2.4, 2.6, 2.7, 3.0, 2.8, nan, nan],
    "TJWQ": [-2.2, -2.5, -2.3, -1.7, -2.0, -1.6, -1.9, -1.4, -1.2, -0.9, -0.3, 0.1, 0.2, -0.3, -0.5, -1.0, -1.1, -0.7, -0.8, -0.6, -0.1, 0.1, 0.3, 0.6, 1.0, 1.0, 1.1, 1.5, 1.7, 1.8, 1.9, 2.2, 2.1, 2.1, 2.3, 2.5, 2.6, 2.9, 2.7, nan, nan],
    "HECX": [-2.7, -3.0, -2.7, -2.0, -2.3, -1.8, -2.1, -1.6, -1.3, -0.9, -0.2, 0.2, 0.3, -0.3, -0.6, -1.1, -1.2, -0.8, -0.9, -0.7, -0.1, 0.1, 0.3, 0.7, 1.1, 1.1, 1.2, 1.6, 1.8, 1.9, 2.0, 2.3, 2.2, 2.3, 2.5, 2.7, 2.8, 3.1, 2.9, nan, nan],
    "HETS": [-2.1, -2.4, -2.2, -1.7, -1.9, -1.5, -1.8, -1.4, -1.2, -0.9, -0.4, 0.0, 0.1, -0.4, -0.6, -1.0, -1.1, -0.8, -0.9, -0.7, -0.2, 0.0, 0.2, 0.5, 0.9, 0.9, 1.0, 1.4, 1.6, 1.7, 1.8, 2.1, 2.0, 2.0, 2.1, 2.3, 2.3, 2.5, 2.4, nan, nan],
}

b5_long = {
    "NMZL": [-0.5, -0.5, -0.6, -0.6, -0.6, -0.6, -0.6, -0.7, -0.5, -0.2, 0.0, -0.1, -0.4, -0.8, -1.1, -1.4, -1.6, -1.5, -1.3, -1.0, -0.7, -0.4, -0.1, 0.2, 0.4, 0.6, 0.7, 0.9, 1.1, 1.3, 1.3, 1.3, 1.2, 1.0, 1.1, 1.3, 1.5, 1.6, 1.5, 1.4, 1.6],
    "NMTK": [-0.3, -0.4, -0.5, -0.6, -0.8, -0.9, -1.0, -1.1, -1.1, -0.9, -0.6, -0.4, -0.6, -0.9, -1.2, -1.5, -1.8, -1.7, -1.5, -1.2, -0.9, -0.5, -0.2, 0.1, 0.3, 0.5, 0.6, 0.7, 0.9, 1.0, 1.2, 1.1, 1.0, 1.3, 1.6, 1.8, 2.0, 2.3, 2.6, 2.8, 4.0],
    "HAHB": [-0.2, -0.3, -0.4, -0.5, -0.6, -0.9, -1.0, -0.9, -0.8, -0.5, -0.3, -0.3, -0.5, -0.8, -1.0, -1.2, -1.4, -1.3, -1.1, -0.8, -0.5, -0.1, 0.3, 0.6, 0.9, 1.1, 1.3, 1.5, 1.7, 1.9, 1.9, 1.7, 1.6, 1.4, 1.3, 1.3, 1.3, 1.5, 1.7, 1.6, 2.1],
    "SDZB": [-1.9, -1.8, -1.8, -1.9, -2.0, -2.3, -2.2, -2.0, -1.7, -1.2, -0.7, -0.5, -0.6, -0.8, -1.0, -1.1, -1.1, -1.0, -0.8, -0.5, -0.2, 0.1, 0.5, 0.7, 0.9, 1.0, 1.2, 1.4, 1.6, 1.8, 1.9, 1.9, 1.9, 1.8, 1.9, 2.0, 2.2, 2.3, 2.4, 2.3, 2.5],
    "SDJX": [-0.3, -0.5, -0.7, -0.8, -0.9, -1.2, -1.2, -1.0, -0.9, -0.6, -0.3, -0.2, -0.4, -0.7, -1.0, -1.3, -1.5, -1.4, -1.2, -0.9, -0.6, -0.2, 0.1, 0.4, 0.6, 0.8, 1.0, 1.2, 1.4, 1.6, 1.6, 1.4, 1.3, 1.3, 1.4, 1.5, 1.5, 1.6, 1.7, 1.6, 1.8],
}
b5_smooth = {
    "NMZL": [-0.3, -0.2, -0.7, -0.8, -0.3, -0.8, -0.9, -0.8, -0.3, 0.0, 0.1, -0.3, -0.5, -0.9, -1.3, -1.5, -1.7, -1.5, -1.2, -1.2, -0.8, -0.3, 0.0, 0.2, 0.5, 0.8, 0.6, 0.8, 1.2, 1.5, 1.3, 1.2, 1.1, 0.9, 1.1, 1.4, 1.6, 1.7, 1.5, nan, nan],
    "NMTK": [-0.1, 0.0, -0.6, -0.9, -0.6, -1.0, -1.2, -1.2, -0.9, -0.8, -0.5, -0.4, -0.7, -1.0, -1.3, -1.6, -1.9, -1.6, -1.4, -1.3, -0.9, -0.4, -0.2, 0.1, 0.4, 0.6, 0.5, 0.7, 1.0, 1.2, 1.1, 1.0, 1.1, 1.4, 1.7, 1.9, 2.1, 2.5, 2.6, nan, nan],
    "HAHB": [0.0, 0.5, -0.4, -1.1, -0.4, -1.0, -1.2, -1.0, -0.6, -0.3, -0.2, -0.3, -0.6, -0.9, -1.1, -1.3, -1.5, -1.2, -1.0, -0.9, -0.4, 0.0, 0.3, 0.7, 1.0, 1.2, 1.2, 1.5, 1.8, 2.1, 1.8, 1.6, 1.7, 1.3, 1.1, 1.3, 1.5, 1.6, 1.6, nan, nan],
    "SDZB": [-1.6, -1.8, -2.0, -2.1, -1.7, -2.2, -2.4, -2.0, -1.5, -1.0, -0.6, -0.5, -0.7, -0.9, -1.1, -1.3, -1.2, -1.0, -0.9, -0.6, -0.1, 0.2, 0.5, 0.8, 1.0, 1.1, 1.2, 1.5, 1.7, 2.0, 1.9, 1.8, 2.0, 1.8, 1.9, 2.1, 2.3, 2.4, 2.3, nan, nan],
    "SDJX": [-0.1, 0.3, -0.6, -1.0, -0.6, -1.2, -1.3, -1.0, -0.7, -0.4, -0.2, -0.2, -0.5, -0.8, -1.1, -1.4, -1.6, -1.3, -1.1, -1.0, -0.5, -0.1, 0.2, 0.5, 0.7, 1.0, 1.0, 1.3, 1.5, 1.7, 1.5, 1.4, 1.4, 1.3, 1.3, 1.5, 1.6, 1.7, 1.7, nan, nan],
}

panels_a = [(a1_long, a1_smooth), (a2_long, a2_smooth), (a3_long, a3_smooth),
            (a4_long, a4_smooth), (a5_long, a5_smooth)]
panels_b = [(b1_long, b1_smooth), (b2_long, b2_smooth), (b3_long, b3_smooth),
            (b4_long, b4_smooth), (b5_long, b5_smooth)]

titles = ["(a) GRACE-derived vertical displacement",
          "(b) GRACE-derived minus GLDAS vertical displacement"]
year_ticks = list(range(2003, 2014))

# ---------------- styles ----------------
COLORS = ['#1428d8', '#e4221c', '#2ed82e', '#e82ce8', '#f27a22']
LW_LONG = 1.5
LW_SMOOTH = 1.0
DASH = (3.0, 2.6)


def fix_len(v):
    v = list(v)[:N_PTS]
    return np.array(v + [nan] * (N_PTS - len(v)), dtype=float)


W, H = 1123.0, 1110.0
fig = plt.figure(figsize=(W / 100, H / 100), dpi=100)
fig.patch.set_facecolor('white')

col_left = [54, 586]
ax_w = 477
top0 = 34
panel_h = 204.2
title_cx = [280, 840]
title_fs = [16.8, 15.8]

for col, panels in enumerate([panels_a, panels_b]):
    for row, (long_d, smooth_d) in enumerate(panels):
        bottom = H - (top0 + (row + 1) * panel_h)
        ax = fig.add_axes([col_left[col] / W, bottom / H, ax_w / W, panel_h / H])
        for (s0, s1) in shade_periods:
            ax.axvspan(s0, s1, color='#e3e3e3', lw=0, zorder=0.2)
        ax.grid(True, which='major', color='#c4c4c4', linestyle=(0, (6, 5)), linewidth=0.8, zorder=0.5)
        ax.set_axisbelow(True)
        names = stations_a[row]
        for k, name in enumerate(names):
            ax.plot(time, fix_len(smooth_d[name]), color=COLORS[k], lw=LW_SMOOTH,
                    dashes=DASH, zorder=2)
        for k, name in enumerate(names):
            ax.plot(time, fix_len(long_d[name]), color=COLORS[k], lw=LW_LONG, zorder=3)
        h_long = [Line2D([], [], color=COLORS[k], lw=LW_LONG) for k in range(5)]
        h_sm = [Line2D([], [], color=COLORS[k], lw=LW_SMOOTH, dashes=DASH) for k in range(5)]
        leg = ax.legend(h_long + h_sm, names + names, ncol=2, loc='upper left',
                        bbox_to_anchor=(0.056, 0.892), frameon=False, fontsize=8.5,
                        handlelength=2.3, handletextpad=0.55, columnspacing=3.4,
                        labelspacing=0.05, borderaxespad=0, borderpad=0)
        ax.text(0.055, 0.966, "GRACE_Long-term", transform=ax.transAxes,
                fontsize=8.5, va='top', ha='left', color='#222222')
        ax.text(0.282, 0.966, "GRACE_smoothed", transform=ax.transAxes,
                fontsize=8.5, va='top', ha='left', color='#222222')

        ax.set_xlim(2003, 2013)
        ax.set_ylim(-5, 5)
        ax.xaxis.set_major_locator(FixedLocator(year_ticks))
        ax.xaxis.set_minor_locator(MultipleLocator(0.5))
        ax.yaxis.set_major_locator(FixedLocator([-3, 0, 3]))
        ax.yaxis.set_minor_locator(MultipleLocator(1))
        ax.yaxis.set_major_formatter(FuncFormatter(lambda v, p: "%d" % v))
        ax.tick_params(which='both', direction='in', top=True, right=True,
                       colors='#333333', labelcolor='black', labelsize=13)
        ax.tick_params(which='major', length=6, width=0.8)
        ax.tick_params(which='minor', length=3, width=0.8)
        for sp in ax.spines.values():
            sp.set_color('#555555')
            sp.set_linewidth(1.0)
        if row < 4:
            ax.tick_params(labelbottom=False)
        else:
            ax.xaxis.set_major_formatter(FuncFormatter(lambda v, p: "%d" % v))
            ax.set_xlabel("Time (years)", fontsize=13, labelpad=1)

    fig.text(title_cx[col] / W, 1 - 17 / H, titles[col], ha='center', va='center',
             fontsize=title_fs[col])

fig.text(20 / W, 1 - 545 / H, "Vertical displacement (mm)", rotation=90,
         ha='center', va='center', fontsize=13)
fig.text(556 / W, 1 - 545 / H, "Vertical displacement (mm)", rotation=90,
         ha='center', va='center', fontsize=13)

fig.savefig("out.png", dpi=100, facecolor='white')
